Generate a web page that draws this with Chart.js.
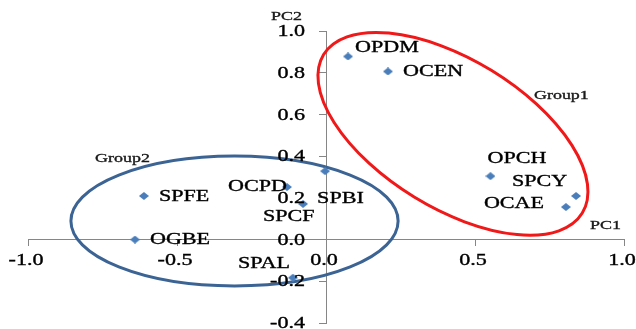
<!DOCTYPE html>
<html>
<head>
<meta charset="utf-8">
<script src="https://cdn.jsdelivr.net/npm/chart.js@4.4.1/dist/chart.umd.min.js"></script>
<style>
  html, body { margin: 0; padding: 0; background: #fff; }
  #wrap { width: 636px; height: 329px; }
</style>
</head>
<body>
<div id="wrap"><canvas id="pcaChart" width="636" height="329"></canvas></div>
<script>
// PCA scores - sample name, PC1, PC2
const samples = ['OPDM', 'OCEN', 'OPCH', 'SPCY', 'OCAE', 'OCPD', 'SPBI', 'SPCF', 'SPFE', 'OGBE', 'SPAL'];
const pc1 = [0.074, 0.208, 0.552, 0.839, 0.805, -0.131, -0.003, -0.077, -0.611, -0.641, -0.111];
const pc2 = [0.878, 0.806, 0.304, 0.209, 0.156, 0.252, 0.328, 0.171, 0.209, 0.000, -0.183];

// axis ticks
const xTicks = [-1.0, -0.5, 0.0, 0.5, 1.0];
const yTicks = [-0.4, -0.2, 0.0, 0.2, 0.4, 0.6, 0.8, 1.0];

// group outlines (data units, radii in x units)
const groupNames = ['Group1', 'Group2'];
const groupCx = [0.426, -0.307];
const groupCy = [0.507, 0.089];
const groupRx = [0.509, 0.549];
const groupRy = [0.249, 0.218];
const groupAngle = [31.5, 0];
const groupLabelX = [0.698, -0.775];
const groupLabelY = [0.690, 0.390];

// style stuff
const groupColors = ['#f01818', '#3b6393'];
const labelShift = [[7, -9], [15, 0], [-3, -17], [-64, -14], [-82, -3], [-59, 0], [-8, 28], [-40, 13], [15, 1], [15, 0], [-55, -14]];
const serif = '"Liberation Serif", "Times New Roman", serif';
const stretch = 1.38; // text in the picture is wider than normal

// diamond marker, a bit wider than tall
const diamond = document.createElement('canvas');
diamond.width = 10;
diamond.height = 8;
const dctx = diamond.getContext('2d');
dctx.fillStyle = '#4a7ebb';
dctx.beginPath();
dctx.moveTo(5, 0);
dctx.lineTo(10, 4);
dctx.lineTo(5, 8);
dctx.lineTo(0, 4);
dctx.closePath();
dctx.fill();

function wideText(ctx, text, x, y, align, size, color) {
    ctx.save();
    ctx.translate(x, y);
    ctx.scale(stretch, 1);
    ctx.font = size + 'px ' + serif;
    ctx.fillStyle = color;
    ctx.strokeStyle = color;
    ctx.lineWidth = 0.35;
    ctx.textAlign = align;
    ctx.textBaseline = 'middle';
    ctx.fillText(text, 0, 0);
    ctx.strokeText(text, 0, 0); // a little heavier, like the original
    ctx.restore();
}

function fmt(v) {
    return v.toFixed(1);
}

// ellipses behind the points
const groupOutlines = {
    id: 'groupOutlines',
    beforeDatasetsDraw(chart) {
        const ctx = chart.ctx;
        const xs = chart.scales.x, ys = chart.scales.y;
        const unit = xs.getPixelForValue(1) - xs.getPixelForValue(0);
        for (let i = 0; i < groupNames.length; i++) {
            ctx.save();
            ctx.translate(xs.getPixelForValue(groupCx[i]), ys.getPixelForValue(groupCy[i]));
            ctx.rotate(groupAngle[i] * Math.PI / 180);
            ctx.beginPath();
            ctx.ellipse(0, 0, groupRx[i] * unit, groupRy[i] * unit, 0, 0, 2 * Math.PI);
            ctx.strokeStyle = groupColors[i];
            ctx.lineWidth = 3;
            ctx.stroke();
            ctx.restore();
        }
    }
};

// tick labels, point labels, axis names
const textLayer = {
    id: 'textLayer',
    afterDraw(chart) {
        const ctx = chart.ctx;
        const xs = chart.scales.x, ys = chart.scales.y;
        const x0 = xs.getPixelForValue(0), y0 = ys.getPixelForValue(0);

        xTicks.forEach(v => wideText(ctx, fmt(v), xs.getPixelForValue(v) - 2, y0 + 21, 'center', 16, '#000'));
        yTicks.forEach(v => wideText(ctx, fmt(v), x0 - 21, ys.getPixelForValue(v) + 1, 'right', 16, '#000'));

        samples.forEach((name, i) => {
            const px = xs.getPixelForValue(pc1[i]), py = ys.getPixelForValue(pc2[i]);
            wideText(ctx, name, px + labelShift[i][0], py + labelShift[i][1], 'left', 16, '#000');
        });

        groupNames.forEach((g, i) => {
            wideText(ctx, g, xs.getPixelForValue(groupLabelX[i]), ys.getPixelForValue(groupLabelY[i]), 'left', 13, '#1a1a1a');
        });

        wideText(ctx, 'PC1', xs.right - 34, y0 - 14, 'left', 13, '#1a1a1a');
        wideText(ctx, 'PC2', x0 - 55, ys.top - 14, 'left', 13, '#1a1a1a');
    }
};

const ctx = document.getElementById('pcaChart').getContext('2d');
const pcaChart = new Chart(ctx, {
    type: 'scatter',
    data: {
        datasets: [{
            label: 'samples',
            data: samples.map((s, i) => ({ x: pc1[i], y: pc2[i] })),
            pointStyle: diamond,
            pointRadius: 5,
            pointHoverRadius: 5
        }]
    },
    options: {
        responsive: false,
        animation: false,
        events: [],
        layout: {
            padding: { left: 28, right: 12, top: 31, bottom: 5 }
        },
        plugins: {
            legend: { display: false },
            tooltip: { enabled: false }
        },
        scales: {
            x: {
                type: 'linear',
                position: { y: 0 },
                min: -1,
                max: 1,
                afterBuildTicks: s => { s.ticks = xTicks.map(v => ({ value: v })); },
                ticks: { display: false },
                grid: { drawOnChartArea: false, drawTicks: true, tickLength: 6, color: '#868686' },
                border: { display: true, color: '#868686', width: 1 }
            },
            y: {
                type: 'linear',
                position: { x: 0 },
                min: -0.4,
                max: 1,
                afterBuildTicks: s => { s.ticks = yTicks.map(v => ({ value: v })); },
                ticks: { display: false },
                grid: { drawOnChartArea: false, drawTicks: true, tickLength: 7, color: '#868686' },
                border: { display: true, color: '#868686', width: 1 }
            }
        }
    },
    plugins: [groupOutlines, textLayer]
});
</script>
</body>
</html>
